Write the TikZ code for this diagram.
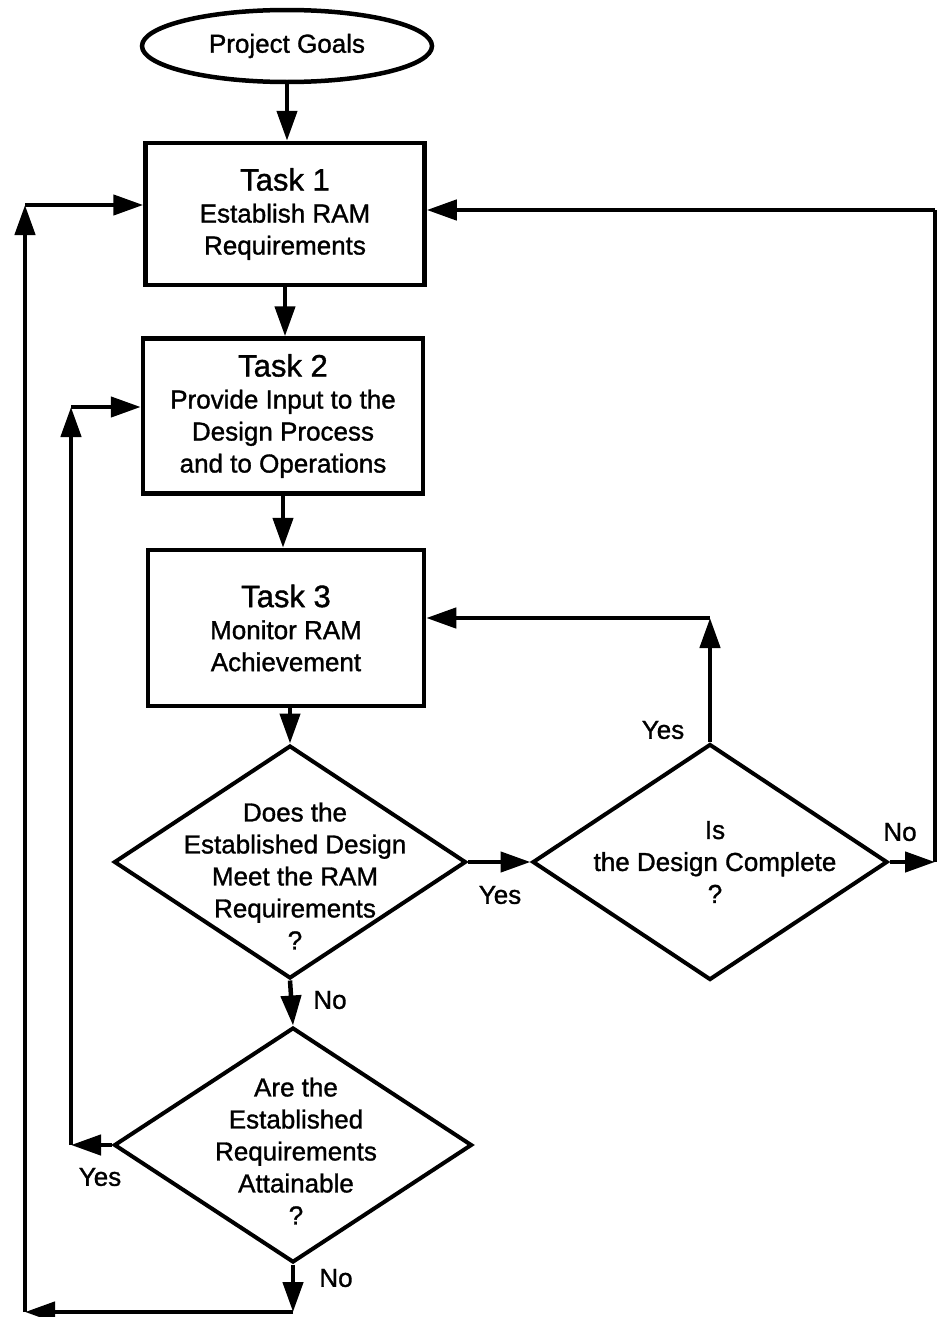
\documentclass[tikz,border=0pt]{standalone}
\usepackage{fontspec}
\setmainfont{Liberation Sans}[FakeBold=1.2]
\usepackage{tikz}
\usetikzlibrary{arrows.meta}
\usetikzlibrary{shapes.geometric}

\newcommand{\taskfont}{\fontsize{31}{36}\selectfont}

\begin{document}
\begin{tikzpicture}[x=1pt, y=-1pt, line width=4.5pt, >={Triangle[length=30pt,width=20pt]},
    task/.style={draw, rectangle, align=center, inner sep=0pt, font=\fontsize{26}{32}\selectfont},
    goal/.style={draw, ellipse, inner sep=0pt, minimum width=290pt, minimum height=72pt, font=\fontsize{26}{32}\selectfont},
    decision/.style={draw, diamond, inner sep=0pt, line width=4pt},
    qtext/.style={align=center, inner sep=0pt, font=\fontsize{26}{32}\selectfont},
    answer/.style={inner sep=0pt, font=\fontsize{26}{32}\selectfont}]
    \useasboundingbox (0,0) rectangle (939,1317);

    \node[goal] (goals) at (287,46) {Project Goals};
    \node[task, minimum width=279pt, minimum height=142pt] (task1) at (285,214) {{\taskfont Task 1}\\Establish RAM\\Requirements};
    \node[task, minimum width=280pt, minimum height=155pt] (task2) at (283,416) {{\taskfont Task 2}\\Provide Input to the\\Design Process\\and to Operations};
    \node[task, minimum width=276pt, minimum height=156pt] (task3) at (286,628) {{\taskfont Task 3}\\Monitor RAM\\Achievement};

    \node[decision, minimum width=352pt, minimum height=233pt] (meet) at (290,862) {};
    \node[qtext] (meettxt) at (295,876) {Does the\\Established Design\\Meet the RAM\\Requirements\\?};
    \node[decision, minimum width=355pt, minimum height=236pt] (complete) at (710,862) {};
    \node[qtext] (completetxt) at (715,862) {Is\\the Design Complete\\?};
    \node[decision, minimum width=358pt, minimum height=235pt] (attain) at (293,1145) {};
    \node[qtext] (attaintxt) at (296,1151) {Are the\\Established\\Requirements\\Attainable\\?};

    \coordinate (c1) at (710,618);
    \coordinate (c2) at (935,862);
    \coordinate (c3) at (935,210);
    \coordinate (c4) at (71,1145);
    \coordinate (c5) at (71,407);
    \coordinate (c6) at (293,1312);
    \coordinate (c7) at (25,1312);
    \coordinate (c8) at (25,205);

    \node[answer] (yesmeet) at (500,895) {Yes};
    \node[answer] (nomeet) at (330,1000) {No};
    \node[answer] (yescomplete) at (663,730) {Yes};
    \node[answer] (nocomplete) at (900,832) {No};
    \node[answer] (yesattain) at (100,1177) {Yes};
    \node[answer] (noattain) at (336,1278) {No};

    % main line
    \draw[->] (goals.south) -- (goals.south |- task1.north);
    \draw[->] (task1) -- (task1 |- task2.north);
    \draw[->] (task2) -- (task2 |- task3.north);
    \draw[->] (task3.south -| meet) -- (meet.north);
    \draw[->] (meet.east) -- (complete.west);
    \draw[->] (meet.south) -- (attain.north);

    % design complete?
    \draw[->] (complete.north) -- (c1);
    \draw[->] (c1) -- (c1 -| task3.east);
    \draw[->] (complete.east) -- (c2);
    \draw (c2) -- (c3);
    \draw[->] (c3) -- (c3 -| task1.east);

    % requirements attainable?
    \draw[->] (attain.west) -- (c4);
    \draw[->] (c4) -- (c5);
    \draw[->] (c5) -- (c5 -| task2.west);
    \draw[->] (attain.south) -- (c6);
    \draw[->] (c6) -- (c7);
    \draw[->] (c7) -- (c8);
    \draw[->] (c8) -- (c8 -| task1.west);
\end{tikzpicture}
\end{document}
